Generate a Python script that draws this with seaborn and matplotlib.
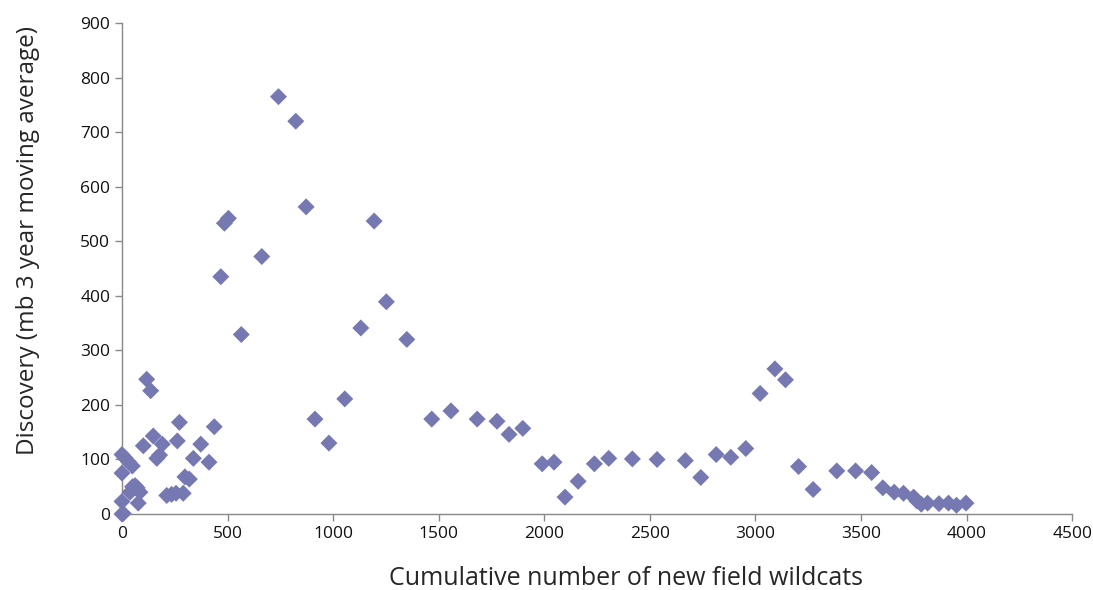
import pandas as pd
import matplotlib
matplotlib.use('Agg')
import matplotlib.pyplot as plt
import seaborn as sns

# Cumulative new field wildcats vs discovery (mb, 3 year moving average)
wildcats = [0, 0, 0, 0, 6, 14, 30, 49, 38, 50, 62, 72, 85, 77, 101, 117, 136,
            148, 165, 178, 191, 212, 235, 256, 290, 262, 272, 298, 319, 338,
            373, 412, 437, 468, 485, 504, 565, 662, 741, 823, 872, 914, 980,
            1055, 1131, 1194, 1252, 1349, 1467, 1558, 1682, 1776, 1833, 1898,
            1990, 2046, 2098, 2160, 2237, 2305, 2417, 2534, 2668, 2741, 2814,
            2883, 2954, 3022, 3092, 3142, 3204, 3273, 3385, 3474, 3550, 3603,
            3657, 3701, 3749, 3764, 3785, 3815, 3869, 3914, 3952, 3997]
discovery = [109, 75, 23, 0, 1, 103, 96, 88, 40, 50, 52, 48, 40, 20, 125, 247,
             226, 143, 102, 108, 128, 34, 36, 38, 38, 134, 168, 68, 64, 102,
             128, 95, 160, 435, 533, 542, 329, 472, 765, 720, 563, 174, 130,
             211, 341, 537, 389, 320, 174, 189, 174, 170, 146, 157, 92, 95,
             31, 60, 92, 102, 101, 100, 98, 67, 109, 104, 120, 221, 266, 246,
             87, 45, 79, 79, 76, 48, 40, 38, 31, 24, 18, 20, 19, 20, 16, 20]

x_ticks = list(range(0, 4501, 500))
y_ticks = list(range(0, 901, 100))

df = pd.DataFrame({'wildcats': wildcats, 'discovery': discovery})

sns.set_style('ticks')
plt.rcParams['font.family'] = ['Open Sans', 'DejaVu Sans']

fig = plt.figure(figsize=(10.93, 5.90), dpi=100)
ax = fig.add_axes([0.1116, 0.1288, 0.8694, 0.8322])

sns.scatterplot(data=df, x='wildcats', y='discovery', marker='D', s=75,
                color='#7678B1', edgecolor='none', ax=ax, clip_on=False,
                zorder=3)

ax.set_xlim(0, 4500)
ax.set_ylim(0, 900)
ax.set_xticks(x_ticks)
ax.set_yticks(y_ticks)
ax.tick_params(axis='both', labelsize=12.5, colors='#888888', length=5,
               width=1, labelcolor='#111111')

for side in ['top', 'right']:
    ax.spines[side].set_visible(False)
for side in ['left', 'bottom']:
    ax.spines[side].set_color('#888888')
    ax.spines[side].set_linewidth(1)

ax.set_xlabel('Cumulative number of new field wildcats', fontsize=18)
ax.set_ylabel('Discovery (mb 3 year moving average)', fontsize=17.5)
# labels sit a bit off-centre in the original
ax.xaxis.set_label_coords(0.5305, -0.105)
ax.yaxis.set_label_coords(-0.086, 0.558)

plt.savefig('out.png', dpi=100)
